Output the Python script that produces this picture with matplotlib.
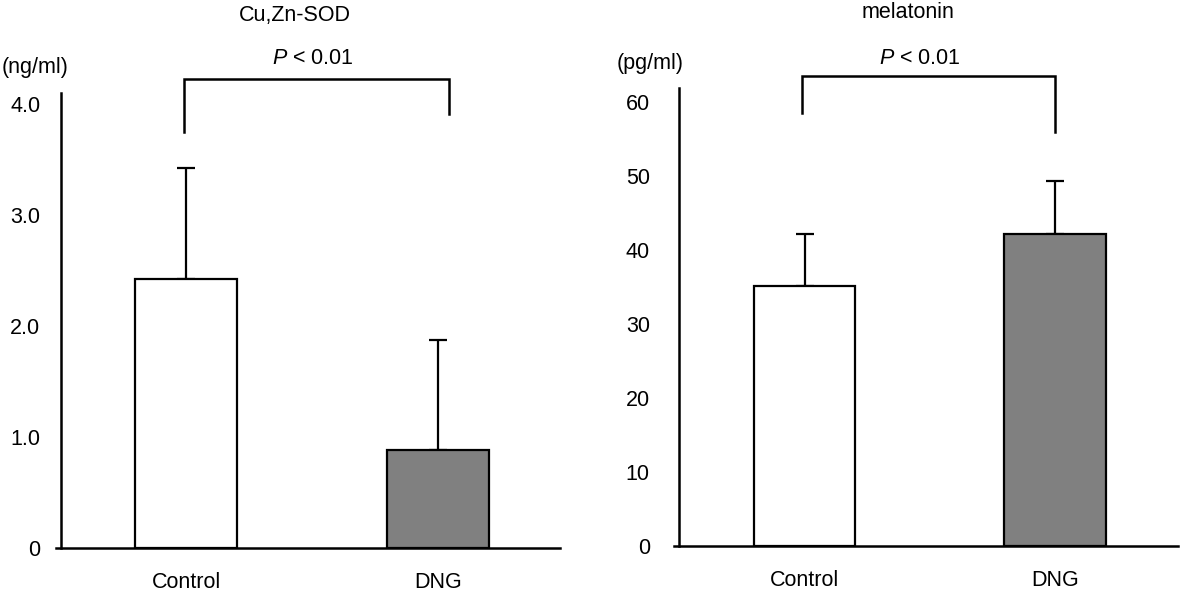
import matplotlib
matplotlib.use("Agg")
import matplotlib.pyplot as plt

plt.rcParams['font.family'] = ['Liberation Sans', 'DejaVu Sans']
plt.rcParams['mathtext.fontset'] = 'custom'
plt.rcParams['mathtext.rm'] = 'Liberation Sans'
plt.rcParams['mathtext.it'] = 'Liberation Sans:italic'

groups = ["Control", "DNG"]
sod_mean = [2.42, 0.88]
sod_sd = [1.00, 0.99]
mel_mean = [35.1, 42.2]
mel_sd = [7.1, 7.1]
bar_colors = ["white", "#808080"]
sod_ticks = [0, 1.0, 2.0, 3.0, 4.0]
sod_ticklabels = ["0", "1.0", "2.0", "3.0", "4.0"]
mel_ticks = [0, 10, 20, 30, 40, 50, 60]
mel_ticklabels = ["0", "10", "20", "30", "40", "50", "60"]

W, H = 1180, 594
fig = plt.figure(figsize=(W / 100, H / 100), dpi=100)
FS = 15.5


def px_axes(x0, x1, ytop, ybot):
    return fig.add_axes([x0 / W, (H - ybot) / H, (x1 - x0) / W, (ybot - ytop) / H])


def panel(ax, means, sds, ticks, ticklabels, ylim_top, xlim, spine_frac, ypad,
          bracket, title, unit, title_xy, p_xy, unit_xy):
    x = list(range(len(groups)))
    ax.bar(x, means, width=0.405, color=bar_colors, edgecolor="black",
           linewidth=1.6, zorder=2)
    ax.errorbar(x, means, yerr=[[0] * len(sds), sds], fmt="none", ecolor="black",
                elinewidth=1.6, capsize=6.8, capthick=1.6, zorder=1)
    ax.set_xlim(*xlim)
    ax.set_ylim(0, ylim_top)
    ax.set_yticks(ticks)
    ax.set_yticklabels(ticklabels)
    ax.set_xticks(x)
    ax.set_xticklabels(groups)
    ax.tick_params(axis="both", length=0, labelsize=FS)
    ax.tick_params(axis="y", pad=ypad)
    ax.tick_params(axis="x", pad=17)
    for s in ["top", "right"]:
        ax.spines[s].set_visible(False)
    ax.spines["left"].set_position(("axes", spine_frac))
    ax.spines["left"].set_linewidth(1.8)
    ax.spines["bottom"].set_linewidth(1.8)
    ax.patch.set_visible(False)
    bx0, bx1, btop, bl, br = bracket
    ax.plot([bx0, bx0, bx1, bx1], [bl, btop, btop, br], color="black",
            linewidth=1.8, clip_on=False, solid_joinstyle="miter")
    fig.text(title_xy[0] / W, 1 - title_xy[1] / H, title, ha="center",
             va="center", fontsize=FS)
    fig.text(p_xy[0] / W, 1 - p_xy[1] / H, r"$\it{P}$ < 0.01", ha="center",
             va="center", fontsize=FS)
    fig.text(unit_xy[0] / W, 1 - unit_xy[1] / H, unit, ha="center",
             va="center", fontsize=FS)


ax1 = px_axes(56, 560, 93, 548)
panel(ax1, sod_mean, sod_sd, sod_ticks, sod_ticklabels, (548 - 93) / 111,
      (-0.516, 1.484), 5 / 504, 15,
      (-0.008, 1.044, 4.225, 3.75, 3.91), "Cu,Zn-SOD", "(ng/ml)",
      (295, 15), (313, 59), (35, 68))

ax2 = px_axes(674, 1178, 88, 546)
panel(ax2, mel_mean, mel_sd, mel_ticks, mel_ticklabels, (546 - 88) / 7.4,
      (-0.521, 1.49), 5 / 504, 21,
      (-0.01, 1.0, 63.5, 58.5, 55.9), "melatonin", "(pg/ml)",
      (908, 13), (920, 59), (650, 63))

fig.savefig("out.png", dpi=100)
